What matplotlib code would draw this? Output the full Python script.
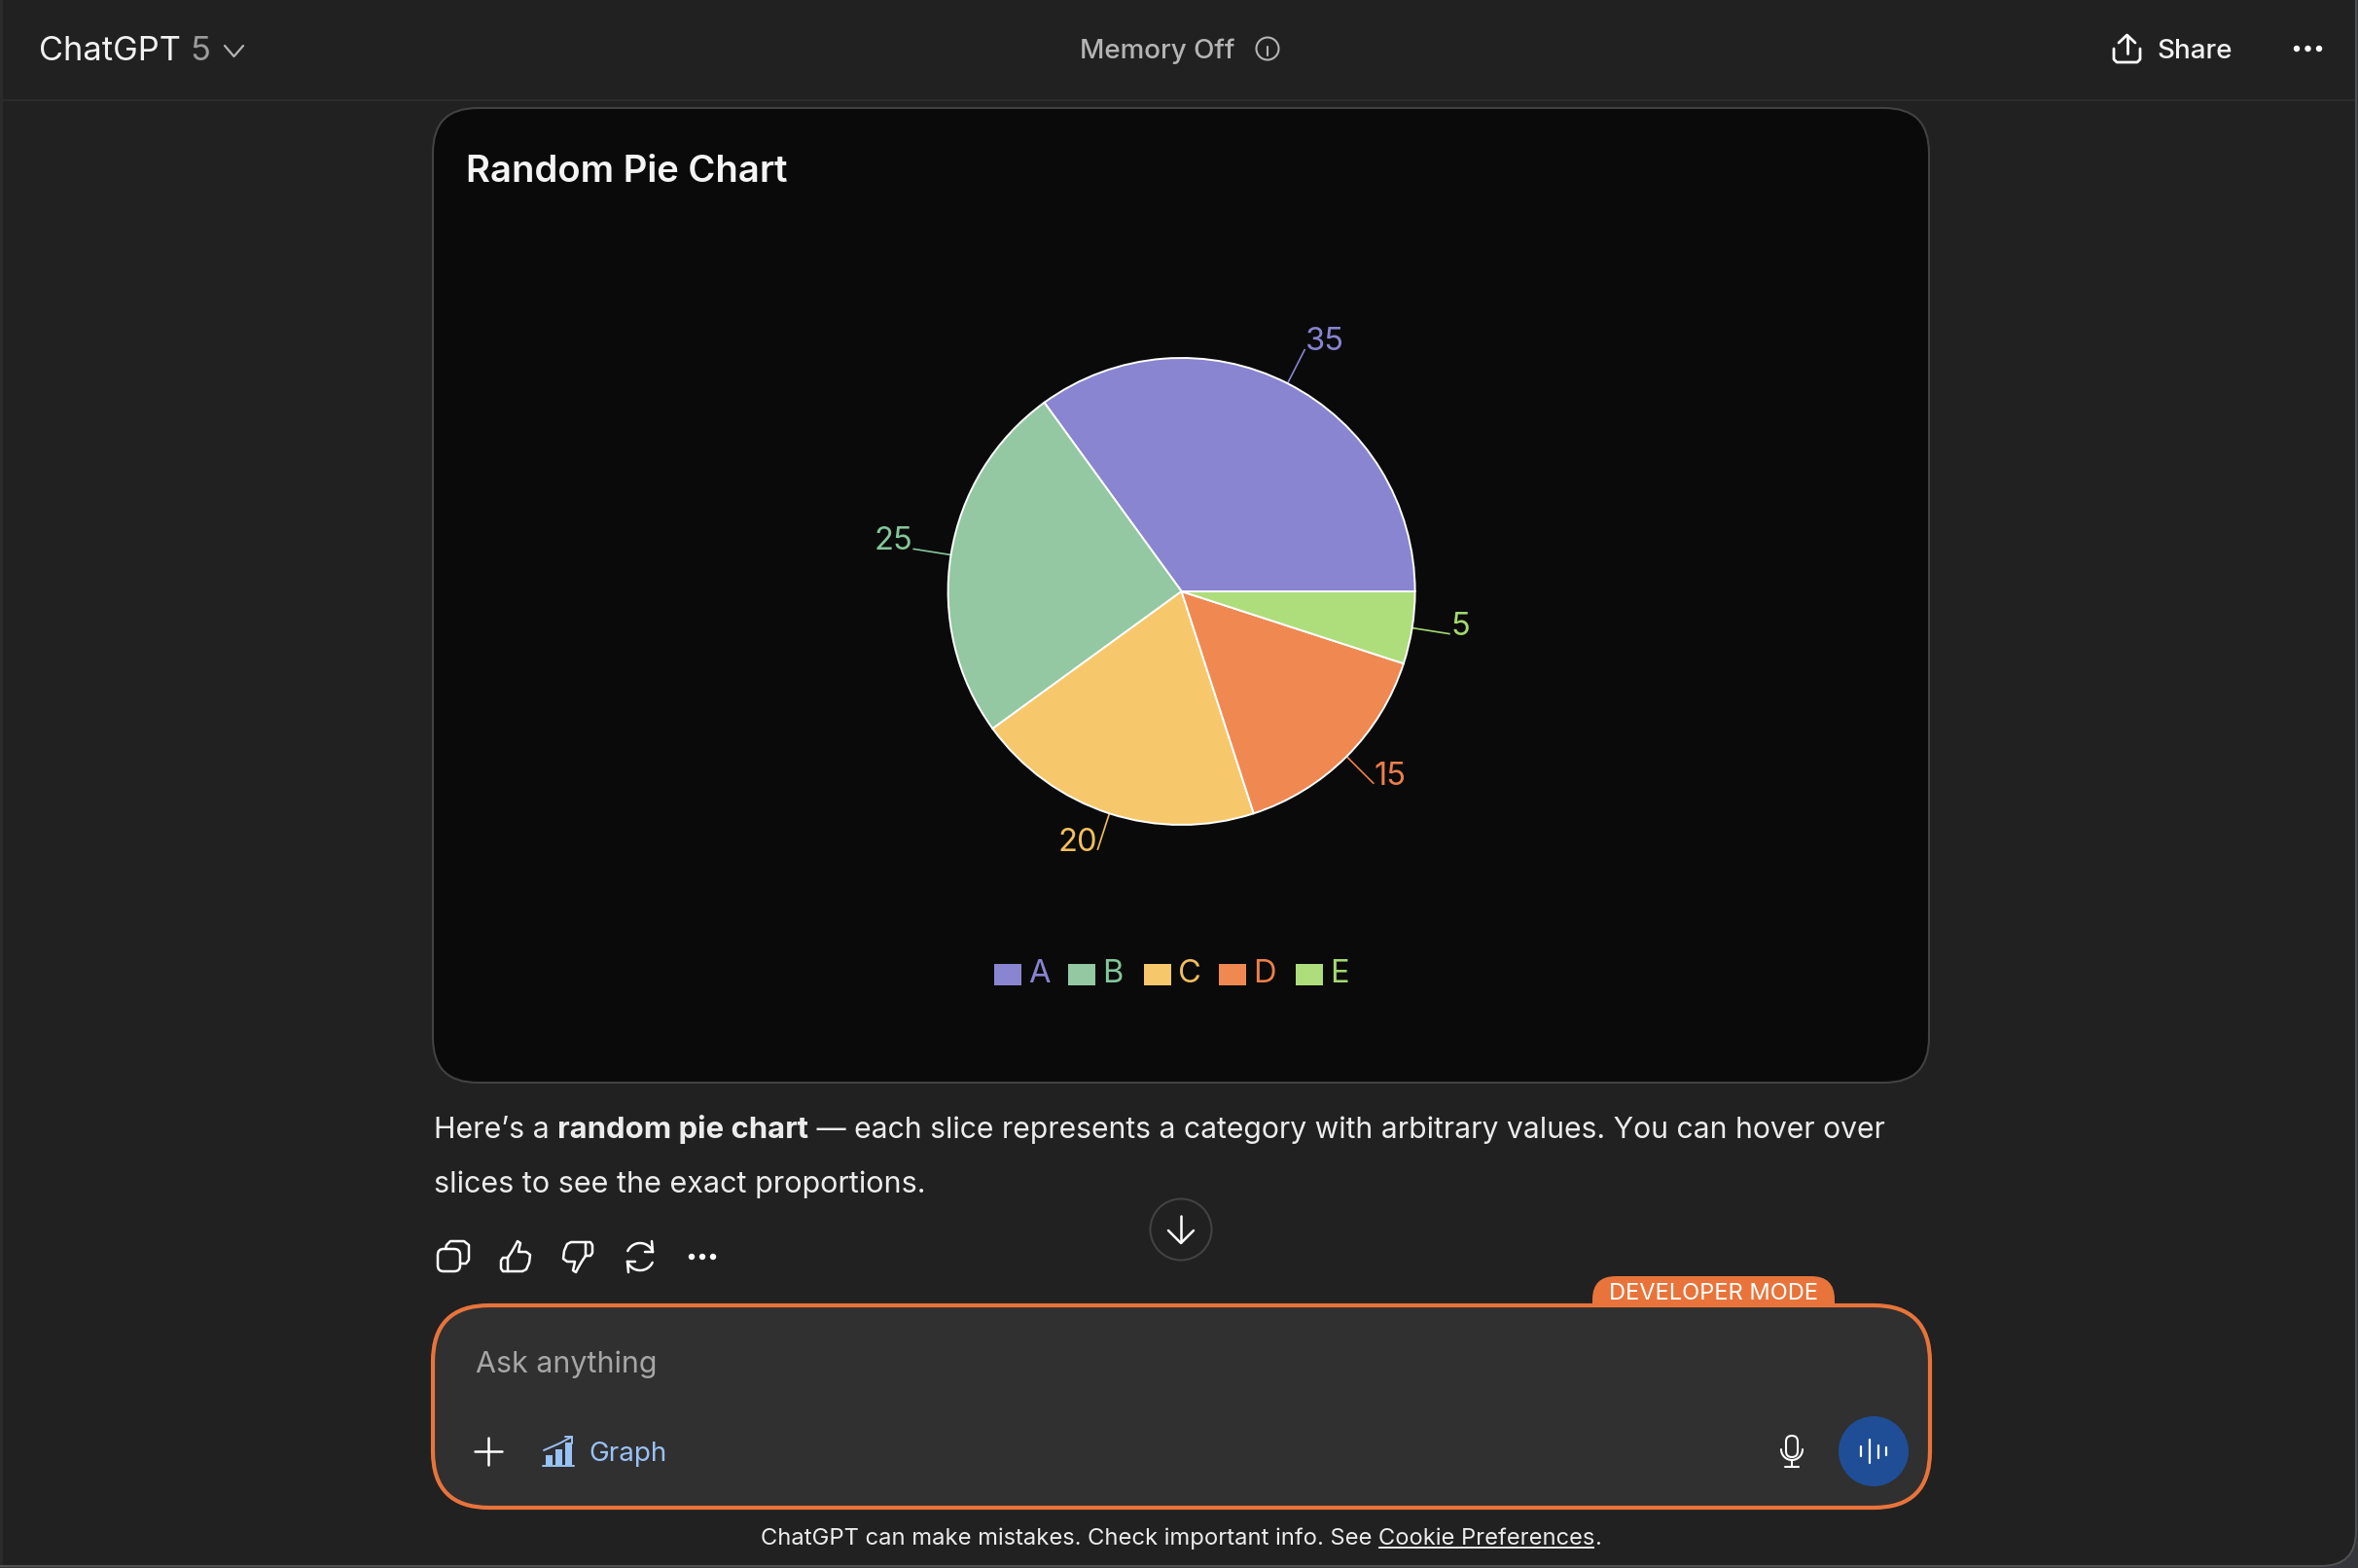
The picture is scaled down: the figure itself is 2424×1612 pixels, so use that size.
#!/usr/bin/env python3
"""Recreate the ChatGPT window showing a random pie chart."""

import numpy as np
import matplotlib

matplotlib.use("Agg")

import matplotlib.pyplot as plt
from matplotlib.patches import Circle, FancyBboxPatch, Rectangle

W, H = 2424, 1612

CATEGORIES = ["A", "B", "C", "D", "E"]
VALUES = [35, 25, 20, 15, 5]
SLICE_COLORS = ["#8985d0", "#93c8a2", "#f7c76b", "#f08852", "#aedd7c"]
TEXT_COLORS = ["#8884d0", "#84c69b", "#f2bf5c", "#ec7f4a", "#a4d870"]

plt.rcParams["font.family"] = ["Inter", "DejaVu Sans"]

fig = plt.figure(figsize=(W / 100, H / 100), dpi=100, facecolor="#34363b")
ui = fig.add_axes([0, 0, 1, 1])
ui.set_xlim(0, W)
ui.set_ylim(H, 0)
ui.axis("off")
renderer = fig.canvas.get_renderer()


def label(x, y, s, size, color="#ececec", weight="normal", ha="left"):
    return ui.text(x, y, s, fontsize=size, color=color, fontweight=weight, ha=ha, va="baseline", zorder=6)


def stroke(xs, ys, color="white", lw=2.0, z=6):
    ui.plot(xs, ys, color=color, lw=lw, solid_capstyle="round", solid_joinstyle="round", zorder=z)


def box(x0, y0, x1, y1, r, face, edge="none", lw=0.0, z=2):
    ui.add_patch(FancyBboxPatch((x0, y0), x1 - x0, y1 - y0, boxstyle=f"round,pad=0,rounding_size={r}",
                                facecolor=face, edgecolor=edge, linewidth=lw, zorder=z))


def arc(cx, cy, r, a0, a1, n=30):
    t = np.radians(np.linspace(a0, a1, n))
    return cx + r * np.cos(t), cy - r * np.sin(t)


def dots(x0, x1, y, r=3.2, color="white"):
    for x in np.linspace(x0, x1, 3):
        ui.add_patch(Circle((x, y), r, facecolor=color, edgecolor="none", zorder=6))


# window frame and header, only the lower right corner of the window is visible
box(-80, -80, 2422, 1610, 36, "#212121", "#505050", 1.5, z=0)
ui.add_patch(Rectangle((0, 102), 2421, 2, facecolor="#2c2c2c", edgecolor="none", zorder=1))
ui.add_patch(Rectangle((0, 0), 2.5, 1609, facecolor="#2b2b2b", edgecolor="none", zorder=1))

label(40, 62, "ChatGPT", 24.8, "#f2f2f2")
label(195, 62, "5", 24.8, "#9b9b9b")
stroke([231, 240.5, 250], [47, 58, 47], "#b4b4b4", 1.6)
label(1110.5, 60, "Memory Off", 20, "#b4b4b4", "medium")
ui.add_patch(Circle((1303, 50), 11.5, facecolor="none", edgecolor="#b4b4b4", linewidth=1.5, zorder=6))
stroke([1303, 1303], [48, 57], "#b4b4b4", 1.5)
stroke([1303, 1303], [43.5, 44], "#b4b4b4", 1.8)

stroke([2173, 2173, 2176, 2197, 2200, 2200], [50, 61, 64, 64, 61, 50])
stroke([2186.5, 2186.5], [37, 55])
stroke([2178, 2186.5, 2195], [44, 36, 44])
label(2217, 60, "Share", 20, "#f2f2f2", "medium")
dots(2361, 2384, 50)

# chart card
box(445, 111, 1983, 1113, 46, "#0a0a0a", "#424242", 1.5)
label(479, 187, "Random Pie Chart", 27.5, "#f4f4f4", "semibold")

# the pie has its own axes, one data unit is one pixel
PIE_X, PIE_Y, PIE_R, HALF = 1214.6, 608, 240, 320
pie_ax = fig.add_axes([(PIE_X - HALF) / W, 1 - (PIE_Y + HALF) / H, 2 * HALF / W, 2 * HALF / H], zorder=3)
wedges, _ = pie_ax.pie(VALUES, colors=SLICE_COLORS, startangle=0, counterclock=True, radius=PIE_R,
                       wedgeprops={"edgecolor": "white", "linewidth": 1.4})
pie_ax.set_xlim(-HALF, HALF)
pie_ax.set_ylim(-HALF, HALF)
pie_ax.axis("off")

for wedge, value, color in zip(wedges, VALUES, TEXT_COLORS):
    mid = np.radians((wedge.theta1 + wedge.theta2) / 2)
    cx, sx = np.cos(mid), np.sin(mid)
    pie_ax.plot([PIE_R * cx, 1.165 * PIE_R * cx], [PIE_R * sx, 1.165 * PIE_R * sx], color=color, lw=1.2, zorder=0,
                solid_capstyle="butt")
    side = 1 if cx > 0 else -1
    pie_ax.text(1.165 * PIE_R * cx + side * 0.5, 1.165 * PIE_R * sx - 1, str(value), color=color, fontsize=23.5,
                ha="left" if side > 0 else "right", va="baseline")

# legend
for i, (cat, fill, color) in enumerate(zip(CATEGORIES, SLICE_COLORS, TEXT_COLORS)):
    x = 1022 + i * 77.5 - (1.5 if i in (1, 2, 3) else 0)
    ui.add_patch(Rectangle((x, 991), 28, 22, facecolor=fill, edgecolor="none", zorder=4))
    label(x + 35.5, 1010, cat, 23.5, color)

# answer text
x = 446
for part, weight, size in [("Here\u2019s a ", "normal", 21.9), ("random pie chart", "bold", 22.35),
                           (" \u2014 each slice represents a category with arbitrary values. You can hover over",
                            "normal", 21.68)]:
    t = label(x, 1169.5, part.replace(" ", "\u00a0"), size, "#ececec", weight)
    x += t.get_window_extent(renderer).width
label(446, 1225.5, "slices to see the exact proportions.", 22)

# action icons
box(450, 1284, 473, 1307, 6, "#212121", "white", 1.8, z=6)
stroke([458, 459, 463, 477, 482, 482, 479, 474], [1284, 1280, 1276, 1276, 1280, 1295, 1299, 1299], lw=1.8)

THUMB_X = np.array([522, 526, 530, 532, 535, 534, 533, 541, 545, 544, 541, 537, 522, 522])
THUMB_Y = np.array([1293, 1287, 1280, 1276, 1278, 1282, 1287, 1287, 1290, 1298, 1305, 1307, 1307, 1293])
STRAP_X = np.array([522, 517, 515, 515, 517, 522])
STRAP_Y = np.array([1293, 1293, 1296, 1304, 1307, 1307])
stroke(THUMB_X, THUMB_Y, lw=1.8)
stroke(STRAP_X, STRAP_Y, lw=1.8)
stroke(1124 - THUMB_X, 2584 - THUMB_Y, lw=1.8)
stroke(1124 - STRAP_X, 2584 - STRAP_Y, lw=1.8)

ax0, ay0 = arc(658, 1292, 14, 20, 155)
stroke(ax0, ay0, lw=1.8)
stroke([670, 671, 663], [1276, 1287, 1287], lw=1.8)
ax1, ay1 = arc(658, 1292, 14, 200, 335)
stroke(ax1, ay1, lw=1.8)
stroke([646, 645, 653], [1308, 1297, 1297], lw=1.8)
dots(711, 733, 1292)

# scroll button
ui.add_patch(Circle((1214, 1264), 31.5, facecolor="#212121", edgecolor="#424242", linewidth=1.5, zorder=3))
stroke([1214, 1214], [1250, 1277], lw=1.8)
stroke([1201, 1214, 1227], [1265, 1278, 1265], lw=1.8)

# composer
box(1637, 1312, 1886, 1370, 24, "#e8743b", z=2)
box(445, 1342, 1984, 1550, 58, "#303030", "#e8743b", 3.0, z=3)
label(1654, 1336, "DEVELOPER MODE", 17, "#ffffff")
label(489, 1411, "Ask anything", 21.9, "#a6a6a6")
stroke([502, 502], [1478, 1506], lw=1.8)
stroke([488, 516], [1492, 1492], lw=1.8)

# graph tool icon
BLUE = "#99c2f5"
for bx, bt in [(561, 1496), (571, 1490), (581, 1483)]:
    ui.add_patch(Rectangle((bx, bt), 7, 1506 - bt, facecolor=BLUE, edgecolor="none", zorder=6))
stroke([558, 590], [1507, 1507], BLUE, 1.4)
stroke([559, 575, 588], [1491, 1484, 1477], BLUE, 1.4)
stroke([581, 588, 588], [1477, 1477, 1484], BLUE, 1.4)
label(605.5, 1502, "Graph", 20, BLUE)

# mic and voice button
box(1836, 1476, 1848, 1498, 6, "none", "white", 1.5, z=6)
mx, my = arc(1842, 1490, 11, 180, 360)
stroke(mx, my, lw=1.5)
stroke([1842, 1842], [1501, 1507], lw=1.5)
stroke([1835, 1849], [1508, 1508], lw=1.5)
ui.add_patch(Circle((1926, 1492), 36, facecolor="#1f4e96", edgecolor="none", zorder=4))
for bx, half in [(1913, 5), (1921.5, 12), (1930.5, 6.5), (1939, 4)]:
    stroke([bx, bx], [1492 - half, 1492 + half], lw=1.6)

# footer
x = 782
t = label(x, 1588, "ChatGPT can make mistakes. Check important info. See\u00a0".replace(" ", "\u00a0"), 17.1)
x += t.get_window_extent(renderer).width
t = label(x, 1588, "Cookie\u00a0Preferences", 17.05)
w = t.get_window_extent(renderer).width
ui.add_patch(Rectangle((x, 1590), w, 1.6, facecolor="#ececec", edgecolor="none", zorder=6))
label(x + w, 1588, ".", 17.1)

fig.savefig("out.png", dpi=100, facecolor=fig.get_facecolor())
